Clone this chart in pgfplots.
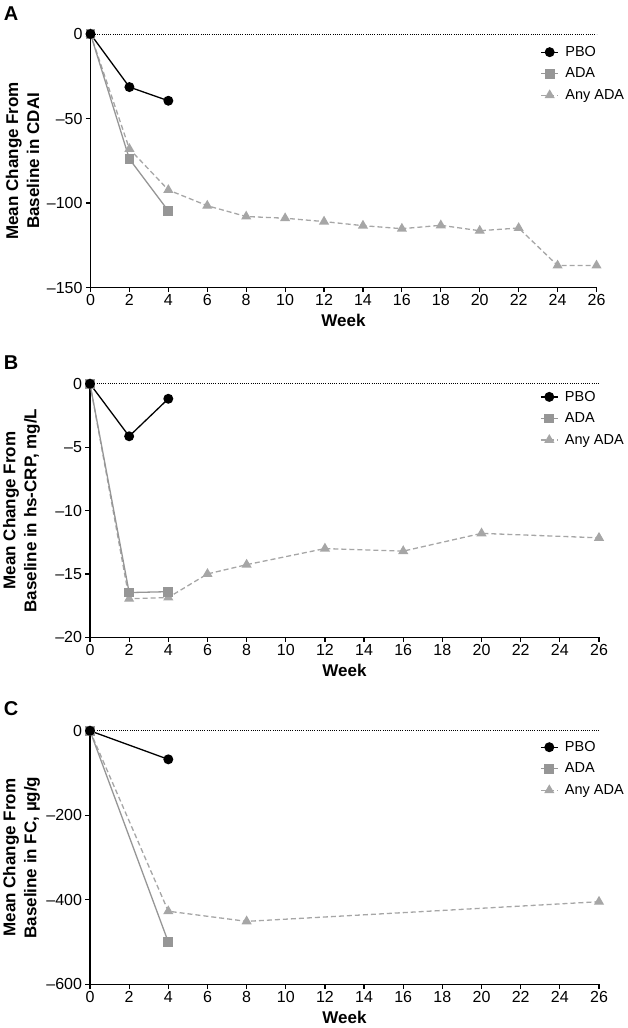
\documentclass[border=0pt]{standalone}
\usepackage{fontspec}
\setmainfont{Liberation Sans}
\usepackage{pgfplots}
\pgfplotsset{compat=1.18}
\definecolor{adagray}{RGB}{150,150,150}
\definecolor{anygray}{RGB}{166,166,166}
\pgfplotsset{
  panel/.style={
    scale only axis, height=253.5pt,
    anchor=south west,
    xmin=0, xmax=26,
    axis lines=left,
    axis line style={-, line width=1.4pt, black},
    xtick={0,2,...,26},
    tick align=outside,
    major tick length=4.5pt,
    tick style={black, line width=1.2pt},
    /pgf/number format/assume math mode=true,
    tick label style={font=\fontsize{16}{16}\selectfont},
    xticklabel style={yshift=1pt},
    clip=false,
    xlabel={Week},
    xlabel style={font=\bfseries\fontsize{17}{17}\selectfont, at={(axis description cs:0.5,-0.13)}, anchor=center},
    ylabel style={font=\bfseries\fontsize{17}{21}\selectfont, align=center, at={(axis description cs:-0.1345,0.5)}, anchor=center},
    legend style={draw=none, fill=none, anchor=north west,
      font=\fontsize{14.5}{14.5}\selectfont, row sep=7pt, column sep=5pt, inner sep=0pt,
      nodes={inner sep=1.5pt}},
    legend cell align=left,
    legend image code/.code={\draw[mark repeat=2,mark phase=2,#1] plot coordinates {(0pt,0pt)(8.5pt,0pt)(17pt,0pt)};},
    reverse legend,
  },
  pbo/.style={black, line width=1.3pt, mark=*, mark size=4.3pt, mark options={solid, fill=black}},
  ada/.style={adagray, line width=1.3pt, mark=square*, mark size=4.2pt, mark options={solid, fill=adagray}},
  anyada/.style={anygray, line width=1.3pt, dash pattern=on 5pt off 3pt, mark=triangle*, mark size=4.6pt, mark options={solid, fill=anygray}},
  zeroline/.style={black, line width=0.8pt, dash pattern=on 0.9pt off 1.3pt, forget plot},
}
\begin{document}
\begin{tikzpicture}
\path[use as bounding box] (0pt,0pt) rectangle (628pt,-1028pt);
% Panel A
\node[font=\bfseries\fontsize{20}{20}\selectfont] at (11pt,-13.5pt) {A};
\begin{axis}[panel, at={(90.5pt,-287.5pt)}, width=506pt,
  ymin=-150, ymax=0, ytick={-150,-100,-50,0}, yticklabels={--150,--100,--50,0},
  ylabel={Mean Change From\\Baseline in CDAI},
  legend style={at={(axis description cs:0.889,0.958)}}]
\addplot[zeroline] coordinates {(0,0)(26,0)};
\addplot[anyada] coordinates {(0,0)(2,-68)(4,-92.3)(6,-101.6)(8,-108)(10,-109)(12,-111)(14,-113.4)(16,-115.2)(18,-113.2)(20,-116.4)(22,-114.8)(24,-137)(26,-137)};
\addlegendentry{Any ADA}
\addplot[ada] coordinates {(0,0)(2,-74)(4,-104.7)};
\addlegendentry{ADA}
\addplot[pbo] coordinates {(0,0)(2,-31.4)(4,-39.5)};
\addlegendentry{PBO}
\end{axis}
% Panel B
\node[font=\bfseries\fontsize{20}{20}\selectfont] at (11pt,-363pt) {B};
\begin{axis}[panel, at={(90pt,-637.3pt)}, width=509pt,
  ymin=-20, ymax=0, ytick={-20,-15,-10,-5,0}, yticklabels={--20,--15,--10,--5,0},
  ylabel={Mean Change From\\Baseline in hs-CRP, mg/L},
  legend style={at={(axis description cs:0.884,0.978)}}]
\addplot[zeroline] coordinates {(0,0)(26,0)};
\addplot[anyada] coordinates {(0,0)(2,-16.96)(4,-16.86)(6,-15.0)(8,-14.27)(12,-13.0)(16,-13.2)(20,-11.8)(26,-12.15)};
\addlegendentry{Any ADA}
\addplot[ada] coordinates {(0,0)(2,-16.47)(4,-16.4)};
\addlegendentry{ADA}
\addplot[pbo] coordinates {(0,0)(2,-4.14)(4,-1.18)};
\addlegendentry{PBO}
\end{axis}
% Panel C
\node[font=\bfseries\fontsize{20}{20}\selectfont] at (11pt,-709pt) {C};
\begin{axis}[panel, at={(90pt,-984.3pt)}, width=509pt,
  ymin=-600, ymax=0, ytick={-600,-400,-200,0}, yticklabels={--600,--400,--200,0},
  ylabel={Mean Change From\\Baseline in FC, µg/g},
  legend style={at={(axis description cs:0.884,0.965)}}]
\addplot[zeroline] coordinates {(0,0)(26,0)};
\addplot[anyada] coordinates {(0,0)(4,-427)(8,-451)(26,-404.5)};
\addlegendentry{Any ADA}
\addplot[ada] coordinates {(0,0)(4,-500)};
\addlegendentry{ADA}
\addplot[pbo] coordinates {(0,0)(4,-67.5)};
\addlegendentry{PBO}
\end{axis}
\end{tikzpicture}
\end{document}
